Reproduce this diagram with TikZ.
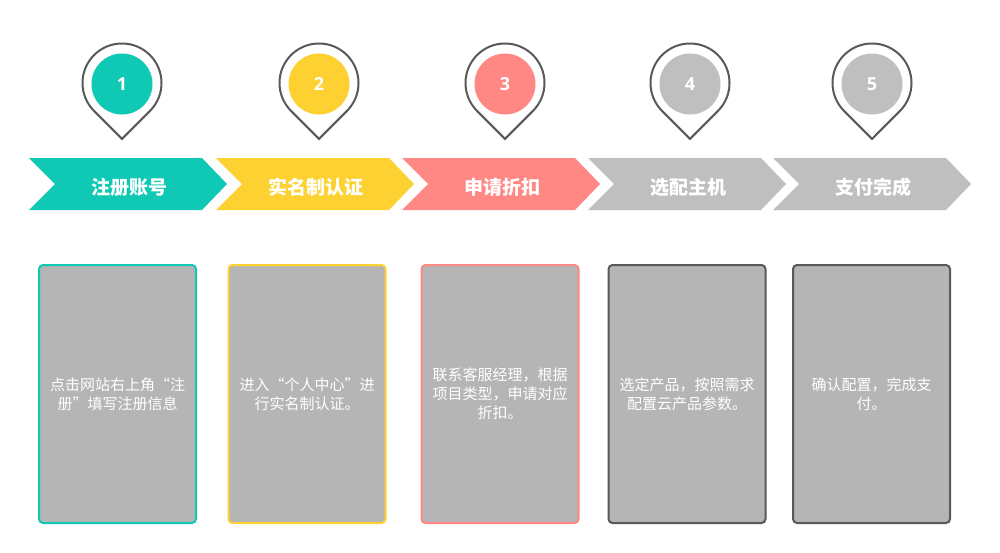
\documentclass[tikz,border=0pt]{standalone}
\usepackage{fontspec}
\setmainfont{Noto Sans CJK SC}
\newfontfamily\numfont{Open Sans}
\usetikzlibrary{calc}
\definecolor{stepteal}{HTML}{10C9B5}
\definecolor{stepyellow}{HTML}{FDD131}
\definecolor{stepsalmon}{HTML}{FF8784}
\definecolor{stepgray}{HTML}{BFBFBF}
\definecolor{cardgray}{HTML}{B5B5B5}
\definecolor{pinline}{HTML}{595959}
\tikzset{
  pinmark/.style={draw=pinline,line width=2pt,fill=white,line join=miter},
  badge/.style={circle,minimum size=61pt,inner sep=0pt,text=white,font=\numfont\bfseries\fontsize{18}{18}\selectfont},
  tabtext/.style={text=white,font=\bfseries\fontsize{19}{19}\selectfont},
  card/.style={line width=2pt,rounded corners=4pt,fill=cardgray,minimum width=157pt,minimum height=258pt,inner sep=0pt,text=white,align=center,font=\fontsize{15}{19}\selectfont}
}
\begin{document}
\begin{tikzpicture}[x=1pt,y=1pt]
  \useasboundingbox[fill=white] (0,0) rectangle (1000,-552);
  \foreach \i/\px/\tx/\cx/\col/\edge/\title/\desc in {
    1/122/29/117.5/stepteal/stepteal/注册账号/{点击网站右上角“注\\册”填写注册信息},
    2/319/216/307/stepyellow/stepyellow/实名制认证/{进入“个人中心”进\\行实名制认证。},
    3/505/402/500/stepsalmon/stepsalmon/申请折扣/{联系客服经理，根据\\项目类型，申请对应\\折扣。},
    4/690/588/687/stepgray/pinline/选配主机/{选定产品，按照需求\\配置云产品参数。},
    5/872/773/871.5/stepgray/pinline/支付完成/{确认配置，完成支\\付。}} {
    % pin with number
    \coordinate (pin\i) at (\px,-83);
    \draw[pinmark] (\px,-138.9) -- ($(pin\i)+(-45:39.5)$) arc[start angle=-45,end angle=225,radius=39.5] -- cycle;
    \node[badge,fill=\col] (num\i) at (\px,-84) {\i};
    % chevron
    \fill[\col] (\tx,-158) -- ++(173,0) -- ++(25,-26) -- ++(-25,-26) -- ++(-173,0) -- ++(26,26) -- cycle;
    \node[tabtext] (tab\i) at (\tx+100,-187) {\title};
    % description card
    \node[card,draw=\edge] (card\i) at (\cx,-394) {\desc};
  }
\end{tikzpicture}
\end{document}
